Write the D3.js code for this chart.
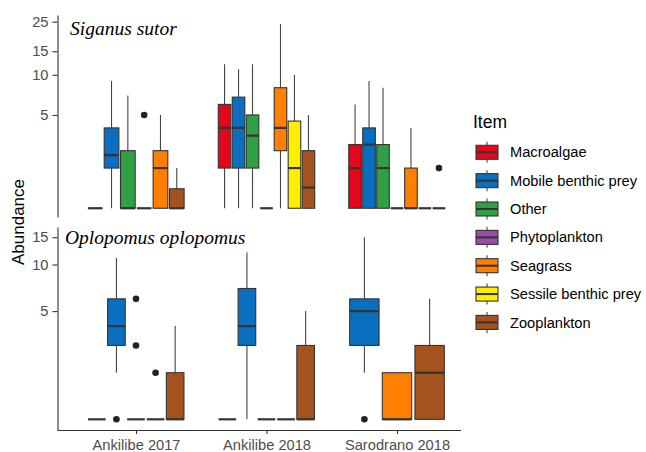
<!DOCTYPE html>
<html>
<head>
<meta charset="utf-8">
<script src="https://cdn.jsdelivr.net/npm/d3@7"></script>
<style>
  html, body { margin: 0; padding: 0; background: #fff; }
  svg { display: block; font-family: "Liberation Sans", Arial, sans-serif; }
</style>
</head>
<body>
<svg id="chart" width="646" height="452"></svg>
<script>
// Sites on the x axis
const sites = ["Ankilibe 2017", "Ankilibe 2018", "Sarodrano 2018"];
// Diet items and their fills
const items = ["Macroalgae", "Mobile benthic prey", "Other", "Phytoplankton",
               "Seagrass", "Sessile benthic prey", "Zooplankton"];
const itemColors = ["#E3061C", "#0A6FBF", "#2FA043", "#984EA3",
                    "#FF7F00", "#FFEE00", "#A4531F"];
// Species (one panel each)
const species = ["Siganus sutor", "Oplopomus oplopomus"];
// Y tick labels per panel
const ticksSiganus = [5, 10, 15, 25];
const ticksOplopomus = [5, 10, 15];

// Box statistics: [site, item, lower whisker, Q1, median, Q3, upper whisker, outliers]
const boxesSiganus = [
  ["Ankilibe 2017", "Macroalgae",           1, 1,   1,    1,   1,  []],
  ["Ankilibe 2017", "Mobile benthic prey",  1, 2,   2.5,  4,   9,  []],
  ["Ankilibe 2017", "Other",                1, 1,   1,    2.7, 7,  []],
  ["Ankilibe 2017", "Phytoplankton",        1, 1,   1,    1,   1,  [5]],
  ["Ankilibe 2017", "Seagrass",             1, 1,   2,    2.7, 5,  []],
  ["Ankilibe 2017", "Zooplankton",          1, 1,   1,    1.4, 2,  []],
  ["Ankilibe 2018", "Macroalgae",           1, 2,   4,    6,   12, []],
  ["Ankilibe 2018", "Mobile benthic prey",  1, 2,   4,    6.8, 11, []],
  ["Ankilibe 2018", "Other",                1, 2,   3.5,  5,   12, []],
  ["Ankilibe 2018", "Phytoplankton",        1, 1,   1,    1,   1,  []],
  ["Ankilibe 2018", "Seagrass",             1, 2.7, 4,    8,   24, []],
  ["Ankilibe 2018", "Sessile benthic prey", 1, 1,   2,    4.5, 10, []],
  ["Ankilibe 2018", "Zooplankton",          1, 1,   1.43, 2.7, 5,  []],
  ["Sarodrano 2018", "Macroalgae",          1, 1,   2,    3,   6,  []],
  ["Sarodrano 2018", "Mobile benthic prey", 1, 1,   3,    4,   9,  []],
  ["Sarodrano 2018", "Other",               1, 1,   2,    3,   8,  []],
  ["Sarodrano 2018", "Phytoplankton",       1, 1,   1,    1,   1,  []],
  ["Sarodrano 2018", "Seagrass",            1, 1,   1,    2,   4,  []],
  ["Sarodrano 2018", "Sessile benthic prey",1, 1,   1,    1,   1,  []],
  ["Sarodrano 2018", "Zooplankton",         1, 1,   1,    1,   1,  [2]]
];
const boxesOplopomus = [
  ["Ankilibe 2017", "Macroalgae",           1, 1, 1, 1, 1,  []],
  ["Ankilibe 2017", "Mobile benthic prey",  2, 3, 4, 6, 11, [1]],
  ["Ankilibe 2017", "Other",                1, 1, 1, 1, 1,  [6, 3]],
  ["Ankilibe 2017", "Seagrass",             1, 1, 1, 1, 1,  [2]],
  ["Ankilibe 2017", "Zooplankton",          1, 1, 1, 2, 4,  []],
  ["Ankilibe 2018", "Macroalgae",           1, 1, 1, 1, 1,  []],
  ["Ankilibe 2018", "Mobile benthic prey",  1, 3, 4, 7, 12, []],
  ["Ankilibe 2018", "Other",                1, 1, 1, 1, 1,  []],
  ["Ankilibe 2018", "Seagrass",             1, 1, 1, 1, 1,  []],
  ["Ankilibe 2018", "Zooplankton",          1, 1, 1, 3, 5,  []],
  ["Sarodrano 2018", "Mobile benthic prey", 2, 3, 5, 6, 15, [1]],
  ["Sarodrano 2018", "Seagrass",            1, 1, 1, 2, 2,  []],
  ["Sarodrano 2018", "Zooplankton",         1, 1, 2, 3, 6,  []]
];

const svg = d3.select("#chart");
const color = d3.scaleOrdinal().domain(items).range(itemColors);

const plotLeft = 57.5, plotRight = 461;
const x = d3.scalePoint().domain(sites).range([136, 397]);
const step = x.step();
const groupWidth = 0.75 * step;

const panels = [
  { name: species[0], data: boxesSiganus, ticks: ticksSiganus,
    top: 15, bottom: 217, domain: [0.86, 28.05], xAxis: false },
  { name: species[1], data: boxesOplopomus, ticks: ticksOplopomus,
    top: 227, bottom: 430, domain: [0.853, 17.47], xAxis: true }
];

const ink = "#333333";

panels.forEach(p => {
  const y = d3.scaleLog().domain(p.domain).range([p.bottom, p.top]);
  const g = svg.append("g");

  // y axis
  const ya = g.append("g")
    .attr("transform", `translate(${plotLeft},0)`)
    .call(d3.axisLeft(y).tickValues(p.ticks).tickFormat(d3.format("d"))
      .tickSize(5).tickPadding(4).tickSizeOuter(0));
  ya.select(".domain").attr("stroke", ink).attr("stroke-width", 1.1);
  ya.selectAll(".tick line").attr("stroke", ink).attr("stroke-width", 1.1);
  ya.selectAll(".tick text").attr("fill", "#4D4D4D")
    .style("font-size", "14.67px").style("font-family", "'Liberation Sans', Arial, sans-serif");

  if (p.xAxis) {
    const xs = d3.scalePoint().domain(sites).range(x.range());
    const xa = g.append("g")
      .attr("transform", `translate(0,${p.bottom})`)
      .call(d3.axisBottom(xs).tickSize(4).tickPadding(6).tickSizeOuter(0));
    xa.select(".domain").attr("d", `M${plotLeft},0.5H${plotRight}`)
      .attr("stroke", ink).attr("stroke-width", 1.1);
    xa.selectAll(".tick line").attr("stroke", ink).attr("stroke-width", 1.1);
    xa.selectAll(".tick text").attr("fill", "#4D4D4D")
      .style("font-size", "14.67px").style("font-family", "'Liberation Sans', Arial, sans-serif");
  }

  // facet label
  g.append("text")
    .attr("x", p === panels[0] ? 70 : 65)
    .attr("y", p.top + (p === panels[0] ? 20 : 16.5))
    .style("font-family", "'Liberation Serif', 'Times New Roman', serif")
    .style("font-style", "italic")
    .style("font-size", "19.5px")
    .attr("fill", "#000")
    .text(p.name);

  // boxes, dodged within each site
  sites.forEach(site => {
    const rows = p.data.filter(r => r[0] === site);
    const present = items.filter(it => rows.some(r => r[1] === it));
    const cx = x(site);
    const band = d3.scaleBand().domain(present)
      .range([cx - groupWidth / 2, cx + groupWidth / 2])
      .paddingInner(0.1).paddingOuter(0.05);
    const bw = band.bandwidth();

    rows.forEach(r => {
      const [, item, lo, q1, med, q3, hi, out] = r;
      const x0 = band(item), xm = x0 + bw / 2;
      const bg = g.append("g");
      // whiskers
      if (hi > q3) bg.append("line").attr("x1", xm).attr("x2", xm)
        .attr("y1", y(q3)).attr("y2", y(hi)).attr("stroke", "#444").attr("stroke-width", 1.1);
      if (lo < q1) bg.append("line").attr("x1", xm).attr("x2", xm)
        .attr("y1", y(q1)).attr("y2", y(lo)).attr("stroke", "#444").attr("stroke-width", 1.1);
      // box
      if (q3 > q1) bg.append("rect").attr("x", x0).attr("width", bw)
        .attr("y", y(q3)).attr("height", y(q1) - y(q3))
        .attr("fill", color(item)).attr("stroke", ink).attr("stroke-width", 1.1);
      // median
      bg.append("line").attr("x1", x0).attr("x2", x0 + bw)
        .attr("y1", y(med)).attr("y2", y(med)).attr("stroke", ink).attr("stroke-width", 2.2);
      // outliers
      out.forEach(v => bg.append("circle").attr("cx", xm).attr("cy", y(v))
        .attr("r", 3.3).attr("fill", "#222"));
    });
  });
});

// y axis title
svg.append("text")
  .attr("transform", "translate(24,222) rotate(-90)")
  .attr("text-anchor", "middle")
  .style("font-size", "17px")
  .attr("fill", "#000")
  .text("Abundance");

// legend
const leg = svg.append("g");
leg.append("text").attr("x", 473).attr("y", 127.7)
  .style("font-size", "17.5px").attr("fill", "#000").text("Item");
items.forEach((it, i) => {
  const cy = 152.3 + i * 28.35;
  const k = leg.append("g");
  k.append("line").attr("x1", 487).attr("x2", 487).attr("y1", cy - 10.5).attr("y2", cy + 10.5)
    .attr("stroke", "#444").attr("stroke-width", 1.1);
  k.append("rect").attr("x", 476).attr("y", cy - 7).attr("width", 22).attr("height", 14)
    .attr("fill", color(it)).attr("stroke", ink).attr("stroke-width", 1.1);
  k.append("line").attr("x1", 476).attr("x2", 498).attr("y1", cy).attr("y2", cy)
    .attr("stroke", ink).attr("stroke-width", 2);
  k.append("text").attr("x", 510).attr("y", cy).attr("dy", "0.35em")
    .style("font-size", "14.67px").attr("fill", "#000").text(it);
});
</script>
</body>
</html>
